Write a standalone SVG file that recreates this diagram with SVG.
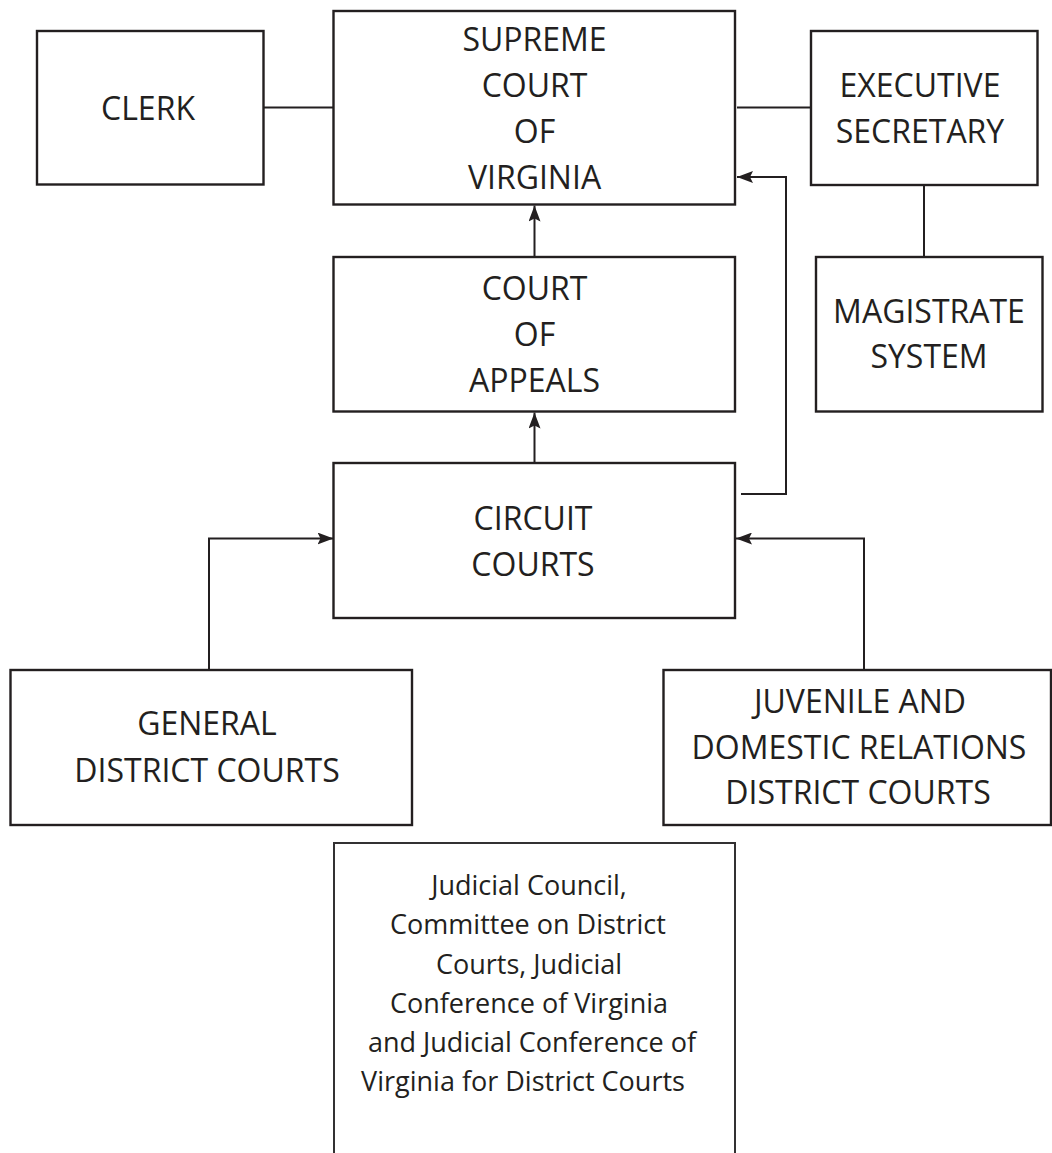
<svg xmlns="http://www.w3.org/2000/svg" width="1052" height="1153" viewBox="0 0 1052 1153">
  <style>
    .box { fill: #ffffff; stroke: #231f20; stroke-width: 2.4; }
    .box2 { fill: #ffffff; stroke: #333132; stroke-width: 2; }
    .lbl { font-family: "Open Sans", "Noto Sans", sans-serif; font-size: 32px; fill: #231f20; text-anchor: middle; }
    .small { font-family: "Open Sans", "Noto Sans", sans-serif; font-size: 27px; fill: #231f20; text-anchor: middle; }
    .conn { fill: none; stroke: #231f20; stroke-width: 2; }
  </style>
  <defs>
    <marker id="arrow" viewBox="0 0 16 12" refX="16" refY="6" markerWidth="16" markerHeight="12" markerUnits="userSpaceOnUse" orient="auto">
      <path d="M0,0 L16,6 L0,12 L3,6 Z" fill="#231f20"/>
    </marker>
  </defs>
  <rect width="1052" height="1153" fill="#ffffff"/>

  <g id="connectors">
    <path class="conn" d="M264,107.5 H334"/>
    <path class="conn" d="M737,107.5 H811"/>
    <path class="conn" d="M924,185 V257"/>
    <path class="conn" d="M534.5,256.5 V205.5" marker-end="url(#arrow)"/>
    <path class="conn" d="M534.5,462.5 V412.5" marker-end="url(#arrow)"/>
    <path class="conn" d="M741,494 H786 V177 H737" marker-end="url(#arrow)"/>
    <path class="conn" d="M209,670 V538.5 H333.5" marker-end="url(#arrow)"/>
    <path class="conn" d="M864,670 V538.5 H736" marker-end="url(#arrow)"/>
  </g>

  <g id="clerk">
    <rect class="box" x="37" y="31" width="226.5" height="153.5"/>
    <text class="lbl" x="148" y="120">CLERK</text>
  </g>

  <g id="supreme-court">
    <rect class="box" x="333.5" y="11" width="401.5" height="193.5"/>
    <text class="lbl" x="534.5" y="50.7">SUPREME</text>
    <text class="lbl" x="534.5" y="96.8">COURT</text>
    <text class="lbl" x="534.5" y="142.9">OF</text>
    <text class="lbl" x="534.5" y="189">VIRGINIA</text>
  </g>

  <g id="executive-secretary">
    <rect class="box" x="811" y="31" width="226.5" height="154"/>
    <text class="lbl" x="920" y="96.7">EXECUTIVE</text>
    <text class="lbl" x="920" y="142.7">SECRETARY</text>
  </g>

  <g id="magistrate-system">
    <rect class="box" x="816" y="257" width="226.5" height="154.5"/>
    <text class="lbl" x="929" y="322.7">MAGISTRATE</text>
    <text class="lbl" x="929" y="368.3">SYSTEM</text>
  </g>

  <g id="court-of-appeals">
    <rect class="box" x="333.5" y="257" width="401.5" height="154.5"/>
    <text class="lbl" x="534.5" y="300">COURT</text>
    <text class="lbl" x="534.5" y="345.7">OF</text>
    <text class="lbl" x="534.5" y="391.7">APPEALS</text>
  </g>

  <g id="circuit-courts">
    <rect class="box" x="333.5" y="463" width="401.5" height="155"/>
    <text class="lbl" x="533" y="530">CIRCUIT</text>
    <text class="lbl" x="533" y="576">COURTS</text>
  </g>

  <g id="general-district-courts">
    <rect class="box" x="10.5" y="670" width="401.5" height="155"/>
    <text class="lbl" x="207" y="735">GENERAL</text>
    <text class="lbl" x="207" y="781.7">DISTRICT COURTS</text>
  </g>

  <g id="juvenile-domestic-relations">
    <rect class="box" x="663.5" y="670" width="387.5" height="155"/>
    <text class="lbl" x="860" y="713.3">JUVENILE AND</text>
    <text class="lbl" x="859" y="759.3">DOMESTIC RELATIONS</text>
    <text class="lbl" x="858" y="804.3">DISTRICT COURTS</text>
  </g>

  <g id="judicial-council">
    <rect class="box2" x="334" y="843" width="401" height="330"/>
    <text class="small" x="529" y="895">Judicial Council,</text>
    <text class="small" x="528" y="934.3">Committee on District</text>
    <text class="small" x="529" y="974.3">Courts, Judicial</text>
    <text class="small" x="529" y="1013.3">Conference of Virginia</text>
    <text class="small" x="532" y="1051.7">and Judicial Conference of</text>
    <text class="small" x="523" y="1090.7">Virginia for District Courts</text>
  </g>
</svg>
